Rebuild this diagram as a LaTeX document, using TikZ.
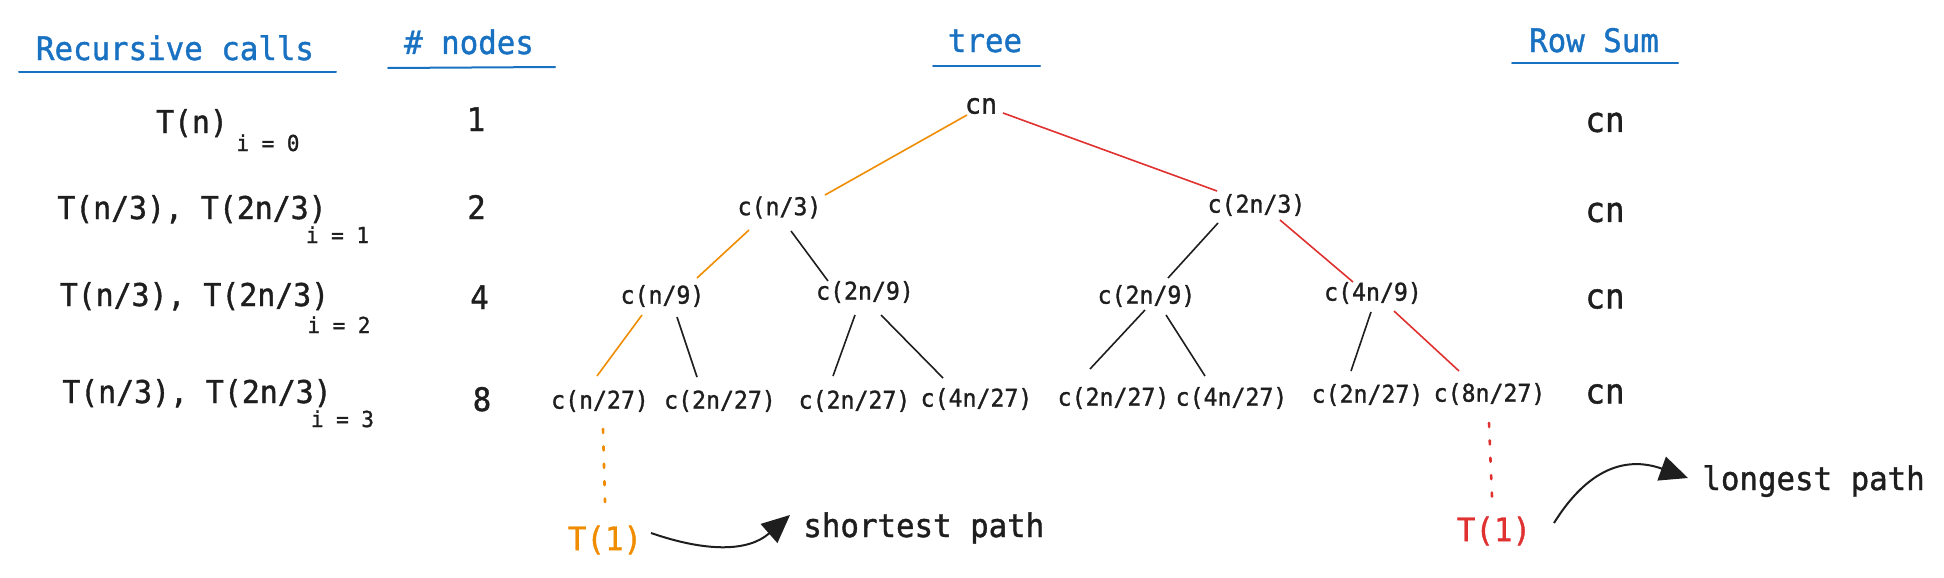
\documentclass[tikz,border=0pt]{standalone}
\usepackage{fontspec}
\newfontfamily\mono[FakeBold=1.2,FakeStretch=0.95]{DejaVu Sans Mono}
\usetikzlibrary{arrows.meta,calc}
\definecolor{hblue}{HTML}{1971C2}
\definecolor{ink}{HTML}{1E1E1E}
\definecolor{orng}{HTML}{F08C00}
\definecolor{rd}{HTML}{E03131}
\begin{document}
\begin{tikzpicture}[x=0.5pt,y=-0.5pt,
  fs/.style={font=\mono\fontsize{#1}{#1}\selectfont},
  hdr/.style={fs=16.2, text=hblue, inner sep=0pt, anchor=base},
  uline/.style={draw=hblue, line width=1pt, line cap=round},
  lbl/.style={fs=15.7, text=ink, inner sep=0pt, anchor=base},
  sub/.style={fs=11, text=ink, inner sep=0pt, anchor=base},
  num/.style={fs=16.2, text=ink, inner sep=0pt, anchor=base},
  tn/.style={fs=12.2, text=ink, inner sep=0pt},
  rootn/.style={fs=14, text=ink, inner sep=0pt},
  rsum/.style={fs=17.2, text=ink, inner sep=0pt},
  leafT/.style={fs=16.2, inner sep=0pt},
  note/.style={fs=16.2, text=ink, inner sep=0pt, anchor=base west},
  bedge/.style={draw=ink, line width=0.8pt},
  oedge/.style={draw=orng, line width=0.8pt},
  redge/.style={draw=rd, line width=0.8pt},
  dots/.style={line width=1.3pt, line cap=round, dash pattern=on 2pt off 6.7pt},
  curvy/.style={draw=ink, line width=1pt, -{Triangle[length=14pt,width=12.5pt]}}
]
\useasboundingbox (0,0) rectangle (1944,578);

% headers
\node[hdr] (hrc) at (175,60) {Recursive calls};
\node[hdr] (hnd) at (469,54) {\# nodes};
\node[hdr] (htr) at (985,52) {tree};
\node[hdr] (hrs) at (1594,52) {Row Sum};
\draw[uline] (19,72) -- (336,72);
\draw[uline] (388,68) -- (555,67);
\draw[uline] (933,66) -- (1040,66);
\draw[uline] (1512,63) -- (1678,63);

% left column
\node[lbl] (r0) at (192,133) {T(n)};
\node[sub] (s0) at (268,151) {i = 0};
\node[lbl] (r1) at (192,219) {T(n/3), T(2n/3)};
\node[sub] (s1) at (337.5,243) {i = 1};
\node[lbl] (r2) at (194.5,306) {T(n/3), T(2n/3)};
\node[sub] (s2) at (339,333) {i = 2};
\node[lbl] (r3) at (197,403) {T(n/3), T(2n/3)};
\node[sub] (s3) at (342.5,427) {i = 3};

% number of nodes
\node[num] (k0) at (476,131) {1};
\node[num] (k1) at (476.5,219) {2};
\node[num] (k2) at (479.5,309) {4};
\node[num] (k3) at (482,411) {8};

% tree
\node[rootn] (cn) at (981,106) {cn};
\node[tn] (n3) at (779.5,207.5) {c(n/3)};
\node[tn] (m3) at (1256.5,205) {c(2n/3)};
\node[tn] (n9) at (662.5,296) {c(n/9)};
\node[tn] (a9) at (865,292) {c(2n/9)};
\node[tn] (b9) at (1146.5,296) {c(2n/9)};
\node[tn] (c9) at (1373,293) {c(4n/9)};
\node[tn] (l1) at (600,401) {c(n/27)};
\node[tn] (l2) at (720,401) {c(2n/27)};
\node[tn] (l3) at (854.5,401) {c(2n/27)};
\node[tn] (l4) at (976.5,399) {c(4n/27)};
\node[tn] (l5) at (1113.5,398) {c(2n/27)};
\node[tn] (l6) at (1231.5,398) {c(4n/27)};
\node[tn] (l7) at (1367.5,395) {c(2n/27)};
\node[tn] (l8) at (1489.5,394) {c(8n/27)};

\node[leafT, text=orng] (t1o) at (605,540) {T(1)};
\node[leafT, text=rd] (t1r) at (1494,531) {T(1)};

% row sums
\node[rsum] (q0) at (1605,122.5) {cn};
\node[rsum] (q1) at (1605,212.5) {cn};
\node[rsum] (q2) at (1605,299) {cn};
\node[rsum] (q3) at (1605,394) {cn};

% edges
\draw[oedge] ($(cn)+(-14,9)$) -- ($(n3)+(45.5,-12.5)$);
\draw[redge] ($(cn)+(22,7)$) -- ($(m3)+(-39.5,-14)$);
\draw[oedge] ($(n3)+(-30.5,22.5)$) -- ($(n9)+(34.5,-18)$);
\draw[bedge] ($(n3)+(11.5,23.5)$) -- ($(a9)+(-37,-11)$);
\draw[bedge] ($(m3)+(-38.5,18)$) -- ($(b9)+(21.5,-18)$);
\draw[redge] ($(m3)+(23.5,15)$) -- ($(c9)+(-20,-11)$);
\draw[oedge] ($(n9)+(-20.5,19)$) -- ($(l1)+(-3,-25)$);
\draw[bedge] ($(n9)+(14.5,21)$) -- ($(l2)+(-23,-24)$);
\draw[bedge] ($(a9)+(-10,23)$) -- ($(l3)+(-21.5,-25)$);
\draw[bedge] ($(a9)+(16,23)$) -- ($(l4)+(-33.5,-21)$);
\draw[bedge] ($(b9)+(-1.5,14)$) -- ($(l5)+(-23.5,-29)$);
\draw[bedge] ($(b9)+(19.5,19)$) -- ($(l6)+(-26.5,-22)$);
\draw[bedge] ($(c9)+(-2,19)$) -- ($(l7)+(-16.5,-24)$);
\draw[redge] ($(c9)+(21,18)$) -- ($(l8)+(-30.5,-23)$);

\draw[dots, draw=orng] ($(l1)+(3,28)$) -- ($(t1o)+(0,-38)$);
\draw[dots, draw=rd] ($(l8)+(-0.5,29)$) -- ($(t1r)+(-2,-34)$);

% notes
\node[note] (sp) at (803,537) {shortest path};
\node[note] (lp) at (1702,490) {longest path};
\coordinate (sptip) at (790,515);
\coordinate (lptip) at (1688,478);
\draw[curvy] ($(t1o)+(46,-7)$) .. controls (706,552) and (748,552) .. (sptip);
\draw[curvy] ($(t1r)+(60,-8)$) .. controls (1592,462) and (1632,458) .. (lptip);
\end{tikzpicture}
\end{document}
